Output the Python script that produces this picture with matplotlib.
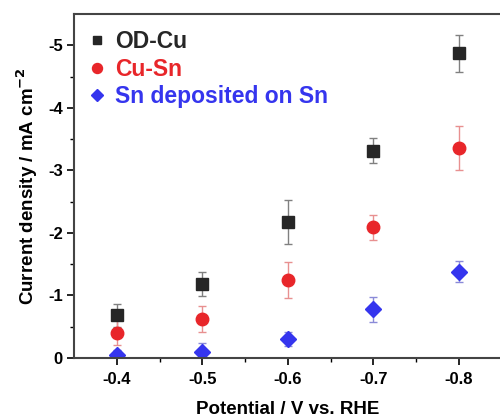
import matplotlib
matplotlib.use("Agg")
import matplotlib.pyplot as plt
from matplotlib.lines import Line2D

plt.rcParams['font.family'] = ['Liberation Sans', 'DejaVu Sans']
plt.rcParams['font.weight'] = 'bold'

potential = [-0.4, -0.5, -0.6, -0.7, -0.8]
od_cu = [-0.68, -1.18, -2.17, -3.31, -4.87]
od_cu_err = [0.19, 0.19, 0.35, 0.20, 0.30]
cu_sn = [-0.40, -0.625, -1.25, -2.09, -3.36]
cu_sn_err = [0.20, 0.21, 0.29, 0.20, 0.35]
sn_sn = [-0.05, -0.09, -0.30, -0.78, -1.38]
sn_sn_err = [0.08, 0.15, 0.11, 0.20, 0.17]
labels = ['OD-Cu', 'Cu-Sn', 'Sn deposited on Sn']
xticks = [-0.4, -0.5, -0.6, -0.7, -0.8]
yticks = [0, -1, -2, -3, -4, -5]

fig = plt.figure(figsize=(5, 4.2), dpi=100)
ax = fig.add_axes([0.148, 0.1476, 0.855, 0.8191])

series = [
    (od_cu, od_cu_err, 's', '#262626', '#808080', 8),
    (cu_sn, cu_sn_err, 'o', '#e8262a', '#e89090', 9),
    (sn_sn, sn_sn_err, 'D', '#3535ee', '#8a8ad8', 8),
]
handles = []
for (vals, err, mk, col, ecol, ms), lab in zip(series, labels):
    ax.errorbar(potential, vals, yerr=err, fmt=mk, color=col, ms=ms,
                ecolor=ecol, elinewidth=1.0, capsize=3, capthick=1.0, mec=col)
    handles.append(Line2D([], [], ls='', marker=mk, color=col, ms=ms * 0.8))

ax.set_xlim(-0.35, -0.85)
ax.set_ylim(0, -5.5)
ax.set_xticks(xticks)
ax.set_xticklabels([f'{v:.1f}' for v in xticks])
ax.set_xticks([-0.45, -0.55, -0.65, -0.75, -0.85], minor=True)
ax.set_yticks(yticks)
ax.set_yticklabels([f'{v:d}' for v in yticks])
ax.set_yticks([-0.5, -1.5, -2.5, -3.5, -4.5], minor=True)
ax.tick_params(axis='both', which='major', labelsize=12, length=5, width=1.2, direction='out')
ax.tick_params(axis='both', which='minor', length=3, width=1.0, direction='out')
ax.tick_params(axis='x', pad=5)
ax.tick_params(axis='y', pad=3)
for sp in ax.spines.values():
    sp.set_linewidth(1.5)
    sp.set_color('#444444')

ax.set_xlabel('Potential / V vs. RHE', fontsize=13.5, fontweight='bold', labelpad=10)
ax.set_ylabel('Current density / mA cm$^{\\mathbf{-2}}$', fontsize=13.5, fontweight='bold', labelpad=6)

leg = ax.legend(handles, labels, loc='upper left', frameon=False,
                handlelength=0.6, handletextpad=0.5, borderaxespad=0.3,
                labelspacing=0.2, prop={'weight': 'bold', 'size': 16.5})
for txt, (_, _, _, col, _, _) in zip(leg.get_texts(), series):
    txt.set_color(col)

fig.savefig('out.png', dpi=100)
